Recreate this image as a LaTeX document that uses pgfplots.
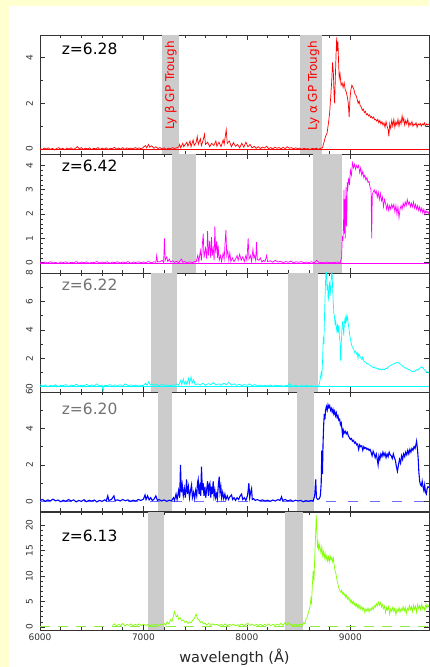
\documentclass[border=0pt]{standalone}
\usepackage{fontspec}
\setmainfont{DejaVu Sans}
\usepackage{pgfplots}
\pgfplotsset{compat=1.18}
\definecolor{cream}{RGB}{255,255,208}
\definecolor{troughgray}{RGB}{204,204,204}
\definecolor{sred}{RGB}{255,0,0}
\definecolor{smag}{RGB}{255,0,255}
\definecolor{scyan}{RGB}{0,255,255}
\definecolor{sblue}{RGB}{0,0,255}
\definecolor{lime}{RGB}{128,255,0}
\definecolor{lightlime}{RGB}{140,235,70}
\definecolor{lightblue}{RGB}{110,110,255}
\pgfplotsset{
 panel/.style={
  scale only axis, width=389pt, height=119pt,
  xmin=6000, xmax=9760,
  xtick={6000,7000,8000,9000}, minor x tick num=4,
  xticklabels={},
  tick align=inside,
  major tick length=5pt, minor tick length=3pt,
  axis line style={black!80, line width=0.6pt},
  every tick/.style={black!80, line width=0.6pt},
  tick label style={font=\fontsize{9}{10}\selectfont, text=black!80},
  y tick label style={rotate=90, anchor=south, inner sep=7pt},
  /pgf/number format/assume math mode=true,
  /pgf/number format/1000 sep={},
  anchor=north west,
 },
}
\tikzset{zlab/.style={anchor=base west, font=\fontsize{15.5}{15.5}\selectfont}}
\newcommand{\trough}[2]{\fill[troughgray] ({axis cs:#1,0} |- {rel axis cs:0,0}) rectangle ({axis cs:#2,0} |- {rel axis cs:0,1});}
\begin{document}
\begin{tikzpicture}
\fill[cream] (0pt,0pt) rectangle (429pt,667pt);
\fill[white] (9pt,0pt) rectangle (429pt,661pt);
\useasboundingbox (0pt,0pt) rectangle (429pt,667pt);

% ---------------- Panel 1 ----------------
\begin{axis}[panel, at={(40pt,632pt)}, ymin=-0.22, ymax=5, ytick={0,2,4}, minor y tick num=1]
\trough{7179}{7343}
\trough{8512}{8725}
\addplot[sred, line width=0.5pt] coordinates {(6000,0) (9760,0)};
\addplot[sred, line width=0.7pt] coordinates {
(6000,0.02)(6020,-0.03)(6040,0.04)(6060,0.0)(6080,0.05)(6100,-0.02)(6120,0.03)(6140,-0.04)(6160,0.02)(6180,0.06)
(6200,-0.01)(6220,0.03)(6240,-0.03)(6260,0.04)(6280,0.0)(6300,0.05)(6320,-0.02)(6340,0.02)(6360,0.10)(6380,0.01)
(6400,0.06)(6420,-0.02)(6440,0.04)(6460,0.0)(6480,0.05)(6500,-0.03)(6520,0.03)(6540,0.01)(6560,0.06)(6580,-0.02)
(6600,0.04)(6620,0.0)(6640,0.05)(6660,-0.02)(6680,0.03)(6700,0.02)(6720,0.07)(6740,-0.01)(6760,0.04)(6780,0.0)
(6800,0.06)(6820,-0.02)(6840,0.05)(6860,0.01)(6880,0.04)(6900,0.0)(6920,0.06)(6940,0.02)(6960,0.05)(6980,0.0)
(7000,0.08)(7020,0.15)(7030,0.05)(7050,0.20)(7060,0.08)(7080,0.14)(7100,0.03)(7120,0.10)(7140,0.02)(7160,0.06)
(7180,0.0)(7200,0.05)(7220,-0.02)(7240,0.04)(7260,0.0)(7280,0.06)(7300,0.02)(7320,0.05)(7340,0.08)(7350,0.20)
(7360,0.05)(7380,0.25)(7390,0.10)(7400,0.18)(7420,0.30)(7430,0.12)(7450,0.35)(7460,0.10)(7480,0.40)(7490,0.15)
(7510,0.30)(7520,0.55)(7530,0.20)(7550,0.45)(7560,0.15)(7575,0.35)(7590,0.65)(7600,0.20)(7620,0.30)(7640,0.10)
(7660,0.25)(7680,0.15)(7700,0.35)(7710,0.12)(7730,0.30)(7750,0.10)(7770,0.40)(7780,0.20)(7800,0.85)(7810,0.25)
(7830,0.35)(7850,0.10)(7870,0.28)(7890,0.12)(7910,0.20)(7930,0.05)(7950,0.25)(7970,0.08)(7990,0.30)(8010,0.10)
(8030,0.20)(8050,0.05)(8070,0.12)(8090,0.03)(8110,0.10)(8130,0.02)(8150,0.08)(8170,0.04)(8190,0.12)(8210,0.02)
(8230,0.06)(8250,0.0)(8270,0.08)(8290,0.03)(8310,0.06)(8330,0.01)(8350,0.07)(8370,0.02)(8390,0.10)(8410,0.03)
(8430,0.06)(8450,0.01)(8470,0.05)(8490,0.02)(8510,0.04)(8530,-0.02)(8550,0.03)(8570,0.0)(8590,0.02)(8610,-0.03)
(8630,0.03)(8650,0.0)(8670,0.04)(8690,-0.02)(8710,0.03)(8730,0.05)(8745,0.3)(8760,0.55)(8775,0.7)(8790,1.2)
(8800,1.6)(8810,2.3)(8820,3.0)(8828,3.8)(8836,3.3)(8842,2.4)(8848,2.0)(8855,3.2)(8862,4.2)(8868,4.9)
(8874,4.3)(8880,4.7)(8886,3.8)(8892,3.1)(8900,3.3)(8910,2.8)(8920,2.9)(8930,2.7)(8940,2.9)(8950,2.6)
(8960,2.5)(8970,2.3)(8980,2.0)(8988,1.4)(8996,2.2)(9005,2.6)(9015,2.8)(9025,2.7)(9035,2.6)(9045,2.4)
(9055,2.35)(9065,2.2)(9075,2.0)(9085,2.1)(9095,1.9)(9105,1.85)(9115,1.7)(9125,1.75)(9135,1.6)(9145,1.65)
(9155,1.5)(9165,1.55)(9175,1.45)(9185,1.5)(9195,1.38)(9205,1.42)(9215,1.35)(9225,1.4)(9235,1.28)(9245,1.3)
(9255,1.22)(9265,1.3)(9275,1.15)(9285,1.25)(9295,1.1)(9305,1.2)(9315,1.05)(9325,1.15)(9335,0.95)(9345,1.2)
(9355,1.0)(9365,0.85)(9372,0.55)(9380,1.1)(9390,0.9)(9400,1.25)(9410,1.0)(9420,1.3)(9430,0.95)(9440,1.2)
(9450,1.05)(9460,1.3)(9470,1.0)(9480,1.25)(9490,1.1)(9500,1.45)(9508,1.2)(9516,1.35)(9525,1.05)(9535,1.25)
(9545,1.1)(9555,1.3)(9565,1.0)(9575,1.15)(9585,1.05)(9595,1.2)(9605,1.0)(9615,1.1)(9625,1.05)(9635,1.15)
(9645,0.95)(9655,1.1)(9665,1.05)(9675,1.12)(9685,1.0)(9695,1.1)(9705,1.05)(9715,1.15)(9725,1.0)(9735,1.1)
(9745,1.05)(9760,1.1)};
\node[zlab] at (rel axis cs:0.047,0.84) {z=6.28};
\node[rotate=90, anchor=east, text=sred, font=\fontsize{12}{12}\selectfont] at (axis cs:7265,4.88) {Ly β GP Trough};
\node[rotate=90, anchor=east, text=sred, font=\fontsize{12}{12}\selectfont] at (axis cs:8645,4.88) {Ly α GP Trough};
\end{axis}

% ---------------- Panel 2 ----------------
\begin{axis}[panel, at={(40pt,513pt)}, ymin=-0.42, ymax=4.47, ytick={0,1,2,3,4}, minor y tick num=4]
\trough{7275}{7507}
\trough{8635}{8915}
\addplot[smag, line width=0.5pt] coordinates {(6000,0) (9760,0)};
\addplot[smag, line width=0.7pt] coordinates {
(6000,0.02)(6025,-0.02)(6050,0.03)(6075,0.0)(6100,0.04)(6125,-0.01)(6150,0.02)(6175,-0.03)(6200,0.03)(6225,0.01)
(6250,0.04)(6275,-0.02)(6300,0.02)(6325,0.0)(6350,0.05)(6375,-0.01)(6400,0.03)(6425,0.0)(6450,0.04)(6475,-0.02)
(6500,0.02)(6525,0.01)(6550,0.05)(6575,-0.01)(6600,0.03)(6625,0.0)(6650,0.04)(6675,-0.02)(6700,0.02)(6725,0.01)
(6750,0.04)(6775,-0.01)(6800,0.03)(6825,0.0)(6850,0.05)(6875,-0.02)(6900,0.03)(6925,0.01)(6950,0.04)(6975,0.0)
(7000,0.03)(7025,0.01)(7050,0.05)(7075,0.0)(7100,0.04)(7120,0.02)(7128,0.3)(7136,0.03)(7160,0.05)(7180,0.1)
(7195,0.02)(7203,1.0)(7210,0.1)(7225,0.25)(7235,0.05)(7250,0.15)(7262,0.03)(7280,0.08)(7300,0.02)(7320,0.06)
(7340,0.0)(7355,0.1)(7369,0.15)(7380,0.02)(7400,0.05)(7425,0.0)(7450,0.04)(7475,0.01)(7495,0.05)(7510,0.05)
(7525,0.3)(7535,0.05)(7550,0.5)(7560,0.1)(7570,0.8)(7578,1.2)(7585,0.2)(7600,0.6)(7612,0.15)(7620,1.3)
(7628,0.3)(7640,0.9)(7650,0.2)(7658,1.05)(7665,0.3)(7675,0.6)(7683,0.1)(7690,1.5)(7698,0.4)(7708,0.9)
(7716,0.2)(7722,0.7)(7732,0.1)(7745,0.3)(7755,0.05)(7770,0.4)(7780,0.15)(7790,0.9)(7797,1.35)(7805,0.3)
(7815,0.5)(7825,0.1)(7835,0.4)(7845,0.05)(7860,0.2)(7875,0.05)(7890,0.15)(7905,0.3)(7915,0.1)(7930,0.35)
(7945,0.1)(7960,0.25)(7975,0.05)(7990,0.3)(8000,0.1)(8012,1.0)(8020,0.15)(8035,0.3)(8045,0.05)(8058,0.55)
(8067,0.2)(8075,0.3)(8085,0.1)(8093,0.85)(8100,0.15)(8115,0.1)(8130,0.2)(8145,0.03)(8160,0.1)(8175,0.05)
(8190,0.3)(8200,0.05)(8225,0.08)(8250,0.02)(8275,0.1)(8300,0.03)(8325,0.06)(8350,0.01)(8375,0.05)(8400,0.02)
(8425,0.07)(8450,0.0)(8475,0.04)(8500,0.02)(8525,0.05)(8550,0.0)(8575,0.03)(8600,0.01)(8625,0.04)(8650,0.0)
(8675,0.1)(8700,0.0)(8725,0.02)(8750,0.0)(8775,0.03)(8800,0.0)(8825,0.02)(8850,0.01)(8875,0.03)(8900,0.0)
(8915,0.2)(8922,1.1)(8928,0.9)(8934,1.6)(8938,3.0)(8942,1.2)(8946,2.6)(8950,1.0)(8954,2.2)(8958,3.1)
(8962,1.5)(8966,2.0)(8970,3.3)(8976,3.1)(8984,3.5)(8992,3.2)(9000,3.8)(9010,3.6)(9020,4.1)(9030,3.9)
(9040,4.05)(9050,3.85)(9060,4.0)(9070,3.9)(9080,4.0)(9090,3.7)(9100,3.9)(9110,3.6)(9120,3.75)(9130,3.5)
(9140,3.6)(9150,3.4)(9160,3.5)(9170,3.3)(9180,3.35)(9190,3.1)(9200,3.0)(9206,1.0)(9212,2.8)(9220,2.9)
(9230,3.0)(9240,2.85)(9250,2.95)(9260,2.7)(9270,2.9)(9280,2.6)(9290,2.85)(9300,2.55)(9310,2.7)(9320,2.3)
(9330,2.6)(9340,2.45)(9350,2.2)(9360,2.4)(9370,2.15)(9380,2.35)(9390,2.2)(9400,2.4)(9410,2.25)(9420,2.4)
(9430,2.1)(9440,2.35)(9450,2.0)(9460,2.3)(9470,1.85)(9480,2.2)(9490,2.35)(9500,2.2)(9510,2.45)(9520,2.3)
(9530,2.5)(9540,2.35)(9550,2.6)(9560,2.4)(9570,2.5)(9580,2.3)(9590,2.45)(9600,2.3)(9610,2.5)(9620,2.25)
(9630,2.4)(9640,2.2)(9650,2.35)(9660,2.15)(9670,2.3)(9680,2.1)(9690,2.25)(9700,2.05)(9710,2.2)(9720,2.0)
(9730,2.15)(9740,2.05)(9750,2.1)(9760,2.0)};
\node[zlab] at (rel axis cs:0.047,0.851) {z=6.42};
\end{axis}

% ---------------- Panel 3 ----------------
\begin{axis}[panel, at={(40pt,394pt)}, ymin=-0.37, ymax=8, ytick={0,2,4,6,8}, minor y tick num=1]
\trough{7072}{7320}
\trough{8393}{8690}
\addplot[scyan, line width=0.5pt] coordinates {(6000,0) (9760,0)};
\addplot[scyan, line width=0.7pt] coordinates {
(6000,0.15)(6025,0.05)(6050,0.12)(6075,0.0)(6100,0.1)(6125,0.05)(6150,0.14)(6175,0.02)(6200,0.1)(6225,0.08)
(6250,0.15)(6275,0.03)(6300,0.12)(6325,0.06)(6350,0.18)(6375,0.04)(6400,0.11)(6425,0.07)(6450,0.16)(6475,0.05)
(6500,0.13)(6525,0.08)(6550,0.2)(6575,0.05)(6600,0.12)(6610,-0.35)(6620,0.1)(6650,0.08)(6675,0.15)(6700,0.05)
(6725,0.12)(6750,0.09)(6775,0.14)(6800,0.04)(6825,0.2)(6850,0.08)(6875,0.13)(6900,0.06)(6925,0.12)(6950,0.05)
(6975,0.1)(7000,0.08)(7020,0.25)(7035,0.1)(7050,0.35)(7065,0.12)(7080,0.2)(7100,0.1)(7125,0.18)(7150,0.08)
(7175,0.15)(7200,0.1)(7225,0.13)(7250,0.06)(7275,0.12)(7300,0.1)(7325,0.2)(7340,0.1)(7360,0.45)(7370,0.15)
(7385,0.55)(7395,0.2)(7410,0.4)(7420,0.15)(7435,0.6)(7445,0.2)(7460,0.7)(7470,0.25)(7485,0.5)(7500,0.15)
(7525,0.2)(7550,0.12)(7575,0.25)(7600,0.1)(7625,0.22)(7650,0.15)(7675,0.3)(7700,0.12)(7725,0.2)(7750,0.1)
(7775,0.25)(7800,0.15)(7825,0.3)(7850,0.12)(7875,0.2)(7900,0.1)(7925,0.18)(7950,0.08)(7975,0.15)(8000,0.1)
(8025,0.2)(8050,0.08)(8075,0.15)(8100,0.05)(8125,0.12)(8150,0.06)(8175,0.1)(8200,0.05)(8225,0.12)(8250,0.04)
(8275,0.1)(8300,0.06)(8325,0.11)(8350,0.04)(8375,0.08)(8400,0.1)(8410,0.25)(8425,0.08)(8450,0.05)(8475,0.1)
(8500,0.03)(8525,0.08)(8550,0.05)(8575,0.1)(8600,0.04)(8625,0.08)(8650,0.03)(8670,0.06)(8690,0.0)(8700,0.2)
(8710,0.6)(8718,1.0)(8725,0.8)(8732,2.0)(8738,3.5)(8744,3.0)(8750,5.0)(8756,6.5)(8762,7.8)(8768,8.2)
(8774,6.8)(8780,7.2)(8786,6.0)(8792,6.8)(8798,7.4)(8804,6.4)(8810,7.0)(8816,7.8)(8822,8.3)(8828,7.0)
(8834,6.0)(8840,5.2)(8846,4.9)(8852,4.4)(8858,4.6)(8864,4.2)(8870,3.9)(8876,4.4)(8882,3.8)(8888,4.3)
(8894,3.5)(8900,3.2)(8906,1.8)(8912,3.0)(8918,4.0)(8924,4.6)(8930,4.2)(8936,3.6)(8942,4.5)(8948,4.8)
(8954,4.4)(8960,5.0)(8966,4.7)(8972,4.9)(8978,4.5)(8986,4.1)(8994,3.6)(9002,3.3)(9010,3.0)(9018,2.8)
(9026,2.7)(9034,2.6)(9042,2.4)(9050,2.5)(9058,2.3)(9066,2.4)(9074,2.0)(9080,2.3)(9088,2.2)(9096,2.1)
(9104,2.0)(9112,1.9)(9120,2.1)(9130,1.8)(9140,1.75)(9150,1.7)(9160,1.6)(9170,1.62)(9180,1.55)(9190,1.5)
(9200,1.45)(9210,1.4)(9220,1.35)(9230,1.38)(9240,1.3)(9250,1.32)(9260,1.25)(9270,1.28)(9280,1.2)(9290,1.25)
(9300,1.18)(9310,1.22)(9320,1.25)(9330,1.2)(9340,1.3)(9350,1.28)(9360,1.35)(9370,1.4)(9380,1.45)(9390,1.5)
(9400,1.55)(9410,1.6)(9420,1.58)(9430,1.65)(9440,1.7)(9450,1.68)(9460,1.72)(9470,1.65)(9480,1.6)(9490,1.55)
(9500,1.5)(9510,1.42)(9520,1.38)(9530,1.3)(9540,1.32)(9550,1.25)(9560,1.2)(9570,1.22)(9580,1.15)(9590,1.1)
(9600,1.05)(9610,1.1)(9620,1.08)(9630,1.15)(9640,1.2)(9650,1.15)(9660,1.25)(9670,1.3)(9680,1.35)(9690,1.4)
(9700,1.32)(9710,1.25)(9720,1.15)(9730,1.1)(9740,1.0)(9750,1.05)(9760,0.95)};
\node[zlab, text=black!55] at (rel axis cs:0.047,0.851) {z=6.22};
\end{axis}

% ---------------- Panel 4 ----------------
\begin{axis}[panel, at={(40pt,275pt)}, ymin=-0.53, ymax=6, ytick={0,2,4,6}, minor y tick num=1]
\trough{7143}{7278}
\trough{8480}{8647}
\addplot[lightblue, line width=0.9pt, dash pattern=on 10pt off 12pt] coordinates {(6000,0) (9760,0)};
\addplot[sblue, line width=1.1pt] coordinates {
(6000,0.05)(6025,0.1)(6050,0.0)(6075,0.08)(6100,0.02)(6125,0.12)(6150,0.03)(6175,0.07)(6200,-0.02)(6225,0.06)
(6250,0.0)(6275,0.1)(6300,0.02)(6325,0.08)(6350,-0.03)(6375,0.05)(6400,0.0)(6425,0.09)(6450,-0.02)(6475,0.06)
(6500,0.01)(6525,0.07)(6550,-0.03)(6575,0.05)(6600,0.0)(6625,0.08)(6640,0.02)(6655,0.3)(6665,0.05)(6690,0.1)
(6715,0.3)(6725,0.05)(6750,0.08)(6775,0.02)(6800,0.1)(6825,0.03)(6850,0.08)(6875,0.0)(6900,0.06)(6925,0.02)
(6950,0.1)(6975,0.05)(7000,0.12)(7015,0.35)(7025,0.1)(7040,0.3)(7055,0.08)(7070,0.2)(7085,0.05)(7100,0.1)
(7120,0.3)(7135,0.05)(7150,0.1)(7175,0.02)(7200,0.08)(7225,0.0)(7250,0.06)(7270,0.02)(7290,0.2)(7300,0.05)
(7315,0.4)(7325,0.1)(7340,0.6)(7350,0.2)(7358,2.0)(7366,0.5)(7375,0.9)(7385,0.3)(7395,0.7)(7405,0.2)
(7417,1.2)(7425,0.4)(7435,0.8)(7445,0.2)(7455,0.6)(7465,0.9)(7473,0.2)(7485,0.5)(7495,0.15)(7505,0.6)
(7515,0.3)(7522,1.0)(7529,1.2)(7537,0.4)(7545,0.8)(7553,0.3)(7561,1.9)(7569,0.6)(7577,1.0)(7585,0.3)
(7594,0.8)(7602,0.2)(7612,0.7)(7620,1.1)(7628,0.3)(7636,0.9)(7642,1.0)(7650,0.2)(7658,0.8)(7666,0.4)
(7674,1.1)(7682,0.3)(7690,0.6)(7698,0.2)(7706,0.4)(7714,0.15)(7724,0.9)(7732,1.35)(7740,0.5)(7748,0.8)
(7756,0.2)(7766,0.5)(7776,0.15)(7787,0.4)(7797,0.1)(7810,0.3)(7822,0.1)(7835,0.25)(7851,0.35)(7862,0.1)
(7875,0.2)(7890,0.05)(7905,0.2)(7920,0.1)(7935,0.3)(7948,0.4)(7960,0.1)(7975,0.2)(7990,0.05)(8005,0.3)
(8012,0.6)(8019,1.0)(8027,0.2)(8036,0.5)(8045,0.7)(8052,0.1)(8065,0.15)(8080,0.05)(8100,0.1)(8125,0.03)
(8150,0.08)(8175,0.02)(8200,0.06)(8225,0.0)(8250,0.07)(8275,0.02)(8300,0.1)(8320,0.05)(8335,0.25)(8345,0.05)
(8370,0.1)(8395,0.02)(8420,0.08)(8445,0.0)(8470,0.06)(8495,0.02)(8520,0.05)(8545,-0.02)(8570,0.04)(8595,0.0)
(8620,0.05)(8640,0.02)(8655,0.3)(8665,1.2)(8672,0.2)(8685,0.1)(8700,0.15)(8710,0.3)(8718,1.0)(8724,2.8)
(8730,1.5)(8736,3.2)(8742,4.2)(8748,4.8)(8754,4.5)(8760,5.0)(8768,5.2)(8776,5.0)(8784,5.3)(8792,5.15)
(8800,5.25)(8808,5.0)(8816,5.1)(8824,4.9)(8832,5.05)(8840,4.8)(8848,4.95)(8856,4.7)(8864,4.85)(8872,4.6)
(8880,4.7)(8888,4.45)(8896,4.5)(8904,4.2)(8912,4.3)(8920,3.9)(8926,3.5)(8932,3.9)(8940,3.75)(8950,3.85)
(8960,3.7)(8970,3.8)(8980,3.6)(8990,3.5)(9000,3.4)(9010,3.45)(9020,3.3)(9030,3.35)(9040,3.2)(9050,3.25)
(9060,3.1)(9070,3.15)(9080,2.85)(9090,3.1)(9100,3.0)(9110,3.05)(9120,2.8)(9130,3.0)(9140,2.9)(9150,2.95)
(9160,2.85)(9170,2.9)(9180,2.8)(9190,2.85)(9200,2.7)(9210,2.5)(9220,2.75)(9230,2.6)(9240,2.4)(9250,2.6)
(9260,2.3)(9268,2.0)(9276,2.5)(9285,2.3)(9295,2.6)(9305,2.45)(9315,2.7)(9325,2.5)(9335,2.65)(9345,2.4)
(9355,2.6)(9365,2.45)(9375,2.7)(9385,2.55)(9395,2.5)(9405,2.35)(9415,2.6)(9425,2.4)(9435,2.25)(9445,1.9)
(9455,1.65)(9465,2.0)(9475,2.3)(9485,2.1)(9495,2.5)(9505,2.3)(9515,2.6)(9525,2.45)(9535,2.7)(9545,2.55)
(9555,2.8)(9565,2.6)(9575,2.85)(9585,2.7)(9595,2.9)(9605,2.8)(9615,3.0)(9625,2.9)(9635,3.15)(9640,3.3)
(9648,2.9)(9656,2.3)(9662,1.6)(9670,1.1)(9678,0.9)(9686,0.85)(9694,1.1)(9702,0.8)(9710,0.6)(9718,0.9)
(9726,0.5)(9734,0.4)(9742,0.7)(9750,0.8)(9760,0.75)};
\node[zlab, text=black!55] at (rel axis cs:0.047,0.807) {z=6.20};
\end{axis}

% ---------------- Panel 5 ----------------
\begin{axis}[panel, at={(40pt,155pt)}, height=118pt, ymin=-0.6, ymax=22.6, ytick={0,5,10,15,20}, minor y tick num=4,
  xticklabels={6000,7000,8000,9000},
  xlabel={wavelength (Å)}, xlabel style={font=\fontsize{14.5}{14.5}\selectfont, text=black!85, yshift=-2pt}]
\trough{7046}{7201}
\trough{8367}{8544}
\addplot[lightlime, line width=0.9pt, dash pattern=on 10pt off 8pt] coordinates {(6000,0) (9760,0)};
\addplot[lime, line width=0.7pt] coordinates {
(6700,0.3)(6720,0.6)(6740,0.2)(6760,0.5)(6780,0.3)(6800,0.7)(6820,0.2)(6840,0.5)(6860,0.3)(6880,0.6)
(6900,0.2)(6920,0.5)(6940,0.35)(6960,0.6)(6980,0.25)(7000,0.55)(7020,0.3)(7040,0.5)(7060,0.2)(7080,0.45)
(7100,0.3)(7120,0.6)(7140,0.2)(7160,0.5)(7180,0.35)(7200,0.7)(7215,0.3)(7230,1.0)(7245,0.6)(7260,1.4)
(7275,1.1)(7290,2.2)(7300,3.0)(7310,2.4)(7320,2.0)(7330,2.3)(7340,1.5)(7355,1.8)(7370,1.2)(7385,1.4)
(7400,0.9)(7415,1.1)(7430,0.7)(7445,1.0)(7460,0.8)(7475,1.3)(7490,1.6)(7500,2.1)(7510,2.5)(7520,1.7)
(7535,1.4)(7550,0.9)(7565,1.1)(7580,0.6)(7595,0.8)(7610,0.4)(7630,0.7)(7650,0.3)(7670,0.6)(7690,0.4)
(7710,0.5)(7730,0.2)(7750,0.5)(7770,0.3)(7790,0.6)(7810,0.25)(7830,0.5)(7850,0.3)(7870,0.55)(7890,0.2)
(7910,0.45)(7930,0.3)(7950,0.6)(7970,0.25)(7990,0.5)(8010,0.7)(8030,0.3)(8050,0.55)(8070,0.25)(8090,0.5)
(8110,0.3)(8130,0.55)(8150,0.2)(8170,0.5)(8190,0.3)(8210,0.6)(8230,0.25)(8250,0.5)(8270,0.3)(8290,0.55)
(8310,0.35)(8330,0.7)(8350,0.3)(8370,0.9)(8385,0.4)(8400,0.8)(8415,0.3)(8430,0.6)(8445,0.2)(8460,0.5)
(8475,0.25)(8490,0.6)(8505,0.2)(8520,0.55)(8535,0.3)(8550,0.9)(8560,0.6)(8570,1.5)(8580,1.8)(8590,2.5)
(8600,3.2)(8610,4.0)(8618,5.5)(8624,4.5)(8632,8.0)(8640,11.0)(8648,9.0)(8656,14.0)(8664,18.0)(8670,22.0)
(8676,19.0)(8682,15.5)(8688,16.5)(8694,15.0)(8700,16.2)(8708,15.5)(8716,14.5)(8724,15.8)(8732,14.0)(8740,14.8)
(8748,13.6)(8756,14.5)(8764,13.2)(8772,14.0)(8780,13.0)(8788,13.8)(8796,12.8)(8804,14.0)(8812,13.2)(8820,13.6)
(8828,12.8)(8836,13.5)(8844,12.0)(8852,11.0)(8860,10.5)(8868,9.5)(8876,8.8)(8884,8.0)(8892,7.5)(8900,7.0)
(8908,6.8)(8916,7.2)(8924,6.5)(8932,6.8)(8940,6.2)(8948,6.5)(8956,5.8)(8964,6.2)(8972,5.5)(8980,5.8)
(8988,5.2)(8996,5.5)(9004,4.8)(9012,5.2)(9020,4.6)(9028,5.0)(9036,4.3)(9044,4.7)(9052,4.1)(9060,4.5)
(9068,3.8)(9076,4.3)(9084,3.6)(9092,4.2)(9100,3.5)(9110,4.0)(9120,3.3)(9130,3.8)(9140,2.8)(9150,3.6)
(9160,3.1)(9170,3.7)(9180,3.0)(9190,3.6)(9200,3.2)(9210,3.9)(9220,3.4)(9230,4.2)(9240,3.8)(9250,4.6)
(9260,4.1)(9270,4.9)(9280,4.3)(9290,4.8)(9300,3.9)(9310,4.4)(9320,3.6)(9330,4.1)(9340,2.8)(9350,3.8)
(9360,3.3)(9370,4.0)(9380,2.5)(9390,3.6)(9400,3.1)(9410,3.9)(9420,3.0)(9430,3.7)(9440,2.4)(9450,3.5)
(9460,3.0)(9470,3.8)(9480,2.9)(9490,3.6)(9500,3.2)(9510,4.0)(9520,3.1)(9530,3.9)(9540,2.6)(9550,3.7)
(9560,3.3)(9570,4.2)(9580,3.4)(9590,4.0)(9600,3.0)(9610,4.3)(9620,3.5)(9630,4.1)(9640,2.9)(9650,4.4)
(9660,3.6)(9670,4.2)(9680,3.3)(9690,4.5)(9700,3.5)(9710,4.0)(9720,3.2)(9730,4.6)(9740,3.7)(9750,4.3)
(9760,3.9)};
\node[zlab] at (rel axis cs:0.047,0.748) {z=6.13};
\end{axis}
\end{tikzpicture}
\end{document}
